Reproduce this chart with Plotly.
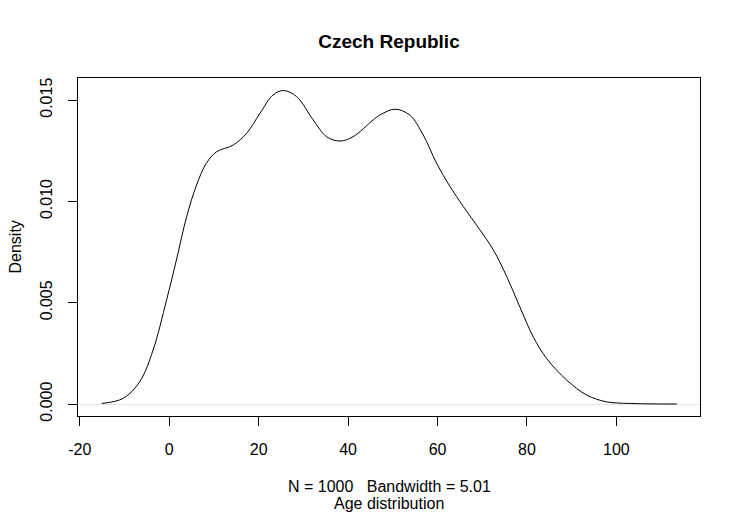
import plotly.graph_objects as go

# Density estimate
age = [-15.1, -10.3, -6.6, -3.6, -0.6, 1.6, 3.9, 6.1, 8.3, 10.6, 14.3, 17.3, 20.3, 23.2,
       25.6, 28.5, 32.2, 35.2, 38.2, 41.1, 45.6, 47.1, 50.5, 53.8, 56.8, 59.8, 62.8,
       65.8, 69.5, 72.5, 75.5, 78.4, 81.4, 84.4, 88.9, 93.4, 97.8, 103.0, 113.5]
density = [0.00003, 0.00028, 0.0011, 0.00267, 0.00513, 0.0071, 0.00925, 0.0108, 0.01188,
           0.01245, 0.01278, 0.01336, 0.01435, 0.01525, 0.01547, 0.01517, 0.01402, 0.01319,
           0.01298, 0.01319, 0.01402, 0.01426, 0.01455, 0.01426, 0.01328, 0.01188, 0.01073,
           0.00974, 0.00859, 0.0076, 0.00628, 0.0048, 0.00332, 0.00225, 0.00118, 0.00044,
           0.00011, 0.00003, 0.0]

x_ticks = [-20, 0, 20, 40, 60, 80, 100]
x_tick_labels = ["-20", "0", "20", "40", "60", "80", "100"]
y_ticks = [0.0, 0.005, 0.010, 0.015]
y_tick_labels = ["0.000", "0.005", "0.010", "0.015"]

title = "Czech Republic"
sub_label = "N = 1000   Bandwidth = 5.01"
x_label = "Age distribution"
y_label = "Density"

FONT = "Liberation Sans, Arial, Helvetica, sans-serif"
# page body has an 8px margin, so the figure is drawn 8px right/down
OFF = 8
W, H = 740 - OFF, 515 - OFF
L, R, T, B = 78 - OFF, 40, 78 - OFF, 99
PW, PH = W - L - R, H - T - B

fig = go.Figure()
fig.add_trace(go.Scatter(
    x=age, y=density, mode="lines",
    line=dict(color="black", width=1, shape="spline", smoothing=1.0),
    hoverinfo="skip", showlegend=False,
))

fig.update_layout(
    width=W, height=H,
    margin=dict(l=L, r=R, t=T, b=B, pad=0),
    paper_bgcolor="white", plot_bgcolor="white",
    font=dict(family=FONT, size=16, color="black"),
    title=dict(text="<b>" + title + "</b>", x=0.5, xref="paper", xanchor="center",
               y=1 - (41 - OFF) / H, yref="container", yanchor="middle",
               font=dict(family=FONT, size=19, color="black")),
    showlegend=False,
)
fig.update_xaxes(
    range=[-20.4, 118.7], tickmode="array", tickvals=x_ticks, ticktext=x_tick_labels,
    ticks="outside", ticklen=9, tickwidth=1, tickcolor="black", ticklabelstandoff=10,
    showline=True, linecolor="black", linewidth=1, mirror=True,
    showgrid=False, zeroline=False, tickfont=dict(size=16),
)
fig.update_yaxes(
    range=[-0.00059, 0.01609], tickmode="array", tickvals=y_ticks, ticktext=y_tick_labels,
    ticks="outside", ticklen=9, tickwidth=1, tickcolor="black", tickangle=-90,
    ticklabelstandoff=10,
    showline=True, linecolor="black", linewidth=1, mirror=True,
    showgrid=False, zeroline=True, zerolinecolor="#e6e6e6", zerolinewidth=1,
    tickfont=dict(size=16),
)

fig.add_annotation(text=sub_label, xref="paper", yref="paper", x=0.5, xanchor="center",
                   y=-(486 - 416) / PH, yanchor="middle", showarrow=False,
                   font=dict(family=FONT, size=16))
fig.add_annotation(text=x_label, xref="paper", yref="paper", x=0.5, xanchor="center",
                   y=-(503.5 - 416) / PH, yanchor="middle", showarrow=False,
                   font=dict(family=FONT, size=16))
fig.add_annotation(text=y_label, xref="paper", yref="paper",
                   x=-(78 - 14.5) / PW, xanchor="center", y=0.5, yanchor="middle",
                   textangle=-90, showarrow=False, font=dict(family=FONT, size=16))

fig.write_html("out.html")
